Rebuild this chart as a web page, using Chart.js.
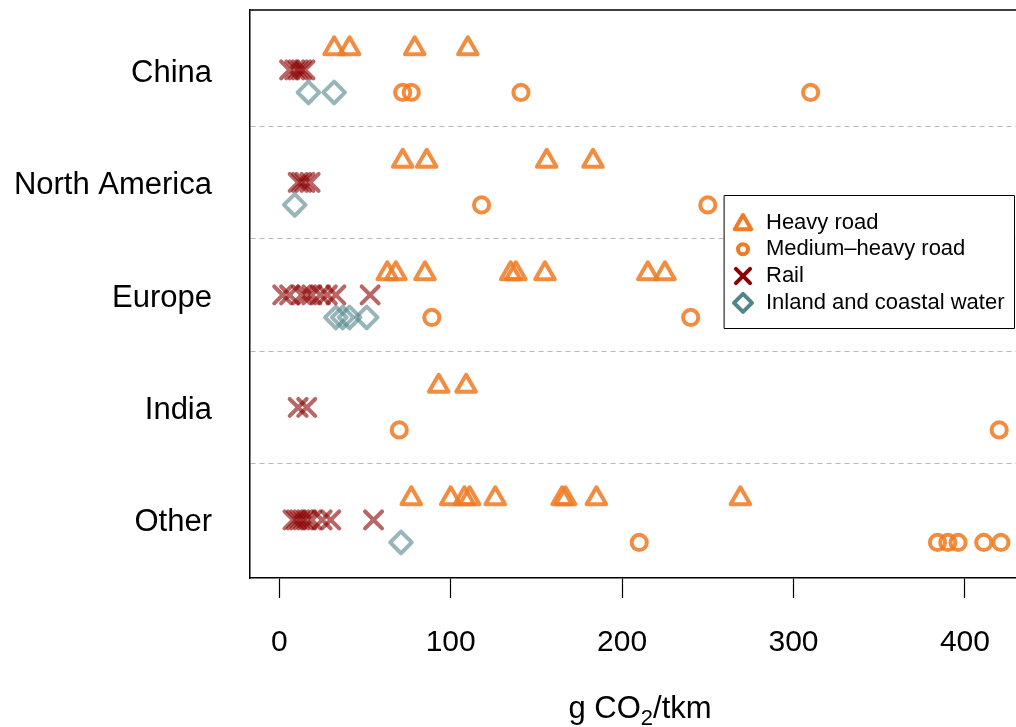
<!DOCTYPE html>
<html>
<head>
<meta charset="utf-8">
<script src="https://cdn.jsdelivr.net/npm/chart.js@4/dist/chart.umd.min.js"></script>
<style>
  html, body { margin: 0; padding: 0; background: #fff; overflow: hidden; }
  #wrap { width: 1016px; height: 727px; position: relative; }
</style>
</head>
<body>
<div id="wrap"><canvas id="c"></canvas></div>
<script>
// Regions, top to bottom
const regions = ['China', 'North America', 'Europe', 'India', 'Other'];
const xTicks = [0, 100, 200, 300, 400];

// Emission intensities in g CO2 per tonne-km, one inner list per region
const heavyRoad = [
  [32, 41, 79, 110],
  [72, 86, 156, 183],
  [63, 68, 85, 135, 138, 155, 215, 225],
  [93, 109],
  [77, 100, 108, 111, 126, 165, 167, 185, 269]
];
const mediumHeavyRoad = [
  [72, 77, 141, 310],
  [118, 250],
  [89, 240],
  [70, 420],
  [210, 384, 390, 396, 411, 421]
];
const rail = [
  [6, 9, 11, 13, 15],
  [11, 13, 15, 18],
  [2, 6, 13, 16, 19, 24, 28, 33, 53],
  [11, 16],
  [8, 10, 12, 14, 16, 19, 25, 30, 55]
];
const inlandWater = [
  [17, 32],
  [9],
  [33, 37, 41, 51],
  [],
  [71]
];

const FONT = "'Liberation Sans', Arial, Helvetica, sans-serif";
const LW = 4;

// Each mode sits in its own lane within a region band
const series = [
  { label: 'Heavy road', values: heavyRoad, lane: 0.19, style: 'triangle', r: 11.3,
    color: 'rgba(240,123,36,0.87)', solid: 'rgb(240,123,36)', legendR: 9.5 },
  { label: 'Medium\u2013heavy road', values: mediumHeavyRoad, lane: -0.2, style: 'circle', r: 7.6,
    color: 'rgba(240,123,36,0.87)', solid: 'rgb(240,123,36)', legendR: 5 },
  { label: 'Rail', values: rail, lane: 0, style: 'crossRot', r: 12,
    color: 'rgba(139,0,0,0.6)', solid: 'rgb(139,0,0)', legendR: 10 },
  { label: 'Inland and coastal water', values: inlandWater, lane: -0.2, style: 'rectRot', r: 10.8,
    color: 'rgba(83,134,139,0.6)', solid: 'rgb(83,134,139)', legendR: 9 }
];

const regionPos = i => regions.length - i;

const datasets = series.map(s => ({
  label: s.label,
  data: s.values.flatMap((vals, i) => vals.map(v => ({ x: v, y: regionPos(i) + s.lane }))),
  pointStyle: s.style,
  pointRadius: s.r,
  pointBorderWidth: LW,
  pointBorderColor: s.color,
  pointBackgroundColor: 'rgba(0,0,0,0)',
  showLine: false
}));

// Round joins and caps for the open markers
const markerStroke = {
  id: 'markerStroke',
  beforeDatasetsDraw(chart) {
    chart.ctx.lineJoin = 'round';
    chart.ctx.lineCap = 'round';
  }
};

// Top edge of the plot frame
const frame = {
  id: 'frame',
  afterDraw(chart) {
    const { ctx, chartArea: a } = chart;
    ctx.save();
    ctx.strokeStyle = '#000';
    ctx.lineWidth = 1.5;
    ctx.beginPath();
    ctx.moveTo(a.left, a.top);
    ctx.lineTo(a.right + 2, a.top);
    ctx.stroke();
    ctx.restore();
  }
};

// Axis title with a subscript
const xTitle = {
  id: 'xTitle',
  afterDraw(chart) {
    const ctx = chart.ctx;
    const parts = [
      { t: 'g CO', size: 31, dy: 0 },
      { t: '2', size: 22, dy: 7 },
      { t: '/tkm', size: 31, dy: 0 }
    ];
    ctx.save();
    ctx.fillStyle = '#000';
    ctx.textBaseline = 'alphabetic';
    ctx.textAlign = 'left';
    let total = 0;
    parts.forEach(p => { ctx.font = p.size + 'px ' + FONT; p.w = ctx.measureText(p.t).width; total += p.w; });
    let x = 640 - total / 2;
    const base = 718;
    parts.forEach(p => {
      ctx.font = p.size + 'px ' + FONT;
      ctx.fillText(p.t, x, base + p.dy);
      x += p.w;
    });
    ctx.restore();
  }
};

function drawSymbol(ctx, style, x, y, r) {
  ctx.beginPath();
  if (style === 'triangle') {
    for (let k = 0; k < 3; k++) {
      const a = k * 2 * Math.PI / 3;
      const px = x + Math.sin(a) * r, py = y - Math.cos(a) * r;
      k ? ctx.lineTo(px, py) : ctx.moveTo(px, py);
    }
    ctx.closePath();
  } else if (style === 'circle') {
    ctx.arc(x, y, r, 0, Math.PI * 2);
  } else if (style === 'crossRot') {
    const d = r * Math.SQRT1_2;
    ctx.moveTo(x - d, y - d); ctx.lineTo(x + d, y + d);
    ctx.moveTo(x - d, y + d); ctx.lineTo(x + d, y - d);
  } else if (style === 'rectRot') {
    ctx.moveTo(x - r, y); ctx.lineTo(x, y - r); ctx.lineTo(x + r, y); ctx.lineTo(x, y + r);
    ctx.closePath();
  }
  ctx.stroke();
}

// Boxed key in the upper right of the plot
const keyBox = {
  id: 'keyBox',
  afterDraw(chart) {
    const ctx = chart.ctx;
    const box = { x: 724.5, y: 195.5, w: 290, h: 133 };
    const rows = [222.5, 249.3, 276, 302.8];
    ctx.save();
    ctx.fillStyle = '#fff';
    ctx.fillRect(box.x, box.y, box.w, box.h);
    ctx.strokeStyle = '#000';
    ctx.lineWidth = 1;
    ctx.strokeRect(box.x, box.y, box.w, box.h);
    ctx.lineJoin = 'round';
    ctx.lineCap = 'round';
    series.forEach((s, i) => {
      ctx.strokeStyle = s.solid;
      ctx.lineWidth = LW;
      drawSymbol(ctx, s.style, 743, rows[i] + (s.style === 'triangle' ? 2 : 0), s.legendR);
      ctx.fillStyle = '#000';
      ctx.font = '22px ' + FONT;
      ctx.textAlign = 'left';
      ctx.textBaseline = 'middle';
      ctx.fillText(s.label, 766, rows[i]);
    });
    ctx.restore();
  }
};

// Fixed axis sizes, no label overhang padding
const fixBox = size => s => {
  if (s.isHorizontal()) s.height = size; else s.width = size;
  s.paddingTop = 0; s.paddingBottom = 0; s.paddingLeft = 0; s.paddingRight = 0;
};

new Chart(document.getElementById('c'), {
  type: 'scatter',
  data: { datasets },
  plugins: [markerStroke, frame, xTitle, keyBox],
  options: {
    responsive: true,
    maintainAspectRatio: false,
    devicePixelRatio: 1,
    animation: false,
    events: [],
    layout: { autoPadding: false, padding: { top: 10, left: 0, right: 0, bottom: 0 } },
    plugins: { legend: { display: false }, tooltip: { enabled: false } },
    scales: {
      x: {
        type: 'linear',
        min: -17.09,
        max: 429.8,
        afterBuildTicks: s => { s.ticks = xTicks.map(v => ({ value: v })); },
        afterFit: fixBox(149),
        ticks: { color: '#000', font: { family: FONT, size: 30 }, padding: 27, maxRotation: 0 },
        grid: { drawOnChartArea: false, drawTicks: true, tickLength: 20, tickColor: '#000', tickWidth: 1.2 },
        border: { color: '#000', width: 1.5 }
      },
      y: {
        type: 'linear',
        min: 0.484,
        max: 5.533,
        afterBuildTicks: s => {
          const t = [];
          for (let v = 1; v <= regions.length; v += 0.5) t.push({ value: v });
          s.ticks = t;
        },
        afterFit: fixBox(250),
        ticks: {
          autoSkip: false,
          color: '#000',
          font: { family: FONT, size: 31 },
          padding: 38,
          labelOffset: 3,
          callback: v => Number.isInteger(v) ? regions[regions.length - v] : ''
        },
        grid: {
          drawTicks: false,
          lineWidth: 1,
          color: c => (c.tick && !Number.isInteger(c.tick.value)) ? '#b8b8b8' : 'rgba(0,0,0,0)'
        },
        border: { color: '#000', width: 1.5, dash: [5, 4] }
      }
    }
  }
});
</script>
</body>
</html>
